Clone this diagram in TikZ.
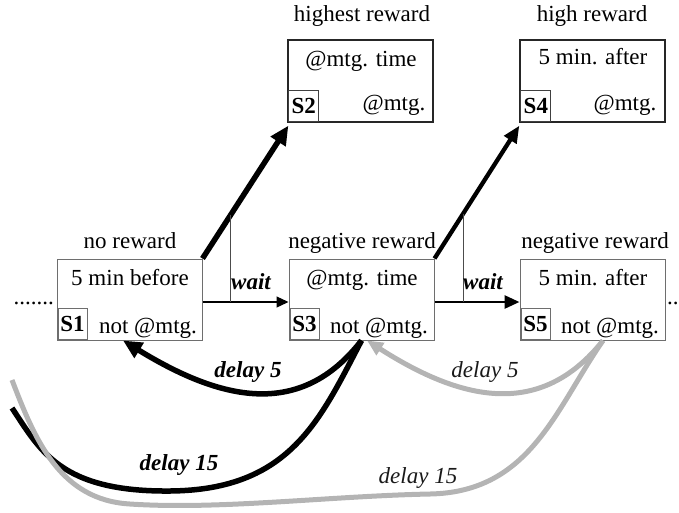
\documentclass[tikz,border=0pt]{standalone}
\usepackage{fontspec}
\setmainfont{Liberation Serif}
\usetikzlibrary{arrows.meta,calc}
\definecolor{lgray}{RGB}{180,180,180}
\definecolor{boxgray}{RGB}{110,110,110}
\begin{document}
\begin{tikzpicture}[x=1pt,y=-1pt,
  every node/.style={font=\fontsize{23}{27}\selectfont, inner sep=0pt},
  lowbox/.style={draw=boxgray, line width=1pt, minimum width=145pt, minimum height=81pt},
  upbox/.style={draw=black!85, line width=1.3pt, minimum width=145pt, minimum height=82pt},
  lowlab/.style={draw=boxgray, line width=1pt, minimum width=29pt, minimum height=31pt, anchor=south west, font=\fontsize{23}{27}\selectfont\bfseries},
  uplab/.style={draw=black!75, line width=1pt, minimum width=30pt, minimum height=31pt, anchor=south west, font=\fontsize{23}{27}\selectfont\bfseries},
  txt/.style={anchor=base},
  boldlab/.style={anchor=base, font=\fontsize{23}{27}\selectfont\bfseries\itshape},
  itlab/.style={anchor=base, text=black!90, font=\fontsize{23}{27}\selectfont\itshape},
  bigarrow/.style={line width=5.5pt, -{Triangle[length=19pt,width=17pt]}},
  medarrow/.style={line width=4.3pt, -{Triangle[length=17pt,width=14pt]}},
  thinwait/.style={line width=1.3pt, -{Triangle[length=12pt,width=11pt]}},
  thickwait/.style={line width=2.8pt, -{Triangle[length=15pt,width=13pt]}},
  junction/.style={line width=0.9pt, draw=black!70},
  blackcurve/.style={line width=5.5pt, draw=black},
  graycurve/.style={line width=5pt, draw=lgray},
]
\useasboundingbox (0,0) rectangle (679,512);

% state boxes
\node[lowbox] (s1) at (129.5,299.5) {};
\node[lowbox] (s3) at (361.5,299.5) {};
\node[lowbox] (s5) at (592.5,299.5) {};
\node[upbox] (s2) at (360.5,81) {};
\node[upbox] (s4) at (592.5,81) {};

% state labels
\node[lowlab] (s1l) at ([xshift=1pt,yshift=1pt]s1.south west) {S1};
\node[lowlab] (s3l) at ([xshift=1pt,yshift=1pt]s3.south west) {S3};
\node[lowlab] (s5l) at ([xshift=1pt,yshift=1pt]s5.south west) {S5};
\node[uplab] (s2l) at ([xshift=1pt,yshift=1pt]s2.south west) {S2};
\node[uplab] (s4l) at ([xshift=1pt,yshift=1pt]s4.south west) {S4};

% titles
\node[txt] (t2) at (362,21) {highest reward};
\node[txt] (t4) at (592,21) {high reward};
\node[txt] (t1) at (130,248) {no reward};
\node[txt] (t3) at (362,248) {negative reward};
\node[txt] (t5) at (595,248) {negative reward};

% box contents
\node[txt] (c1a) at (130,285) {5 min before};
\node[txt] (c1b) at (148,333) {not @mtg.};
\node[txt] (c3a) at (362,285) {@mtg. time};
\node[txt] (c3b) at (379,333) {not @mtg.};
\node[txt] (c5a) at (593,285) {5 min. after};
\node[txt] (c5b) at (610,333) {not @mtg.};
\node[txt] (c2a) at (361,66) {@mtg. time};
\node[txt] (c2b) at (394,110) {@mtg.};
\node[txt] (c4a) at (593,64) {5 min. after};
\node[txt] (c4b) at (625,110) {@mtg.};

% dots
\node[anchor=base east] (dl) at (54,304) {.......};
\node[anchor=base west] (dr) at (667,304) {..};

% wait transitions
\coordinate (w1) at ([yshift=-2.5pt]s1.east);
\coordinate (w3) at ([yshift=-2.5pt]s3.east);
\draw[thinwait] (w1) -- ([yshift=-2.5pt]s3.west);
\draw[thickwait] (w3) -- ([yshift=-2.5pt]s5.west);
\draw[bigarrow] (s1.north east) -- ([xshift=1pt,yshift=-3pt]s2.south west);
\draw[medarrow] (s3.north east) -- ([yshift=-3pt]s4.south west);
\path (s1.north east) -- ([xshift=1pt,yshift=-3pt]s2.south west) coordinate[pos=0.33] (j1);
\path (s3.north east) -- ([yshift=-3pt]s4.south west) coordinate[pos=0.337] (j3);
\draw[junction] (j1) -- (j1 |- w1);
\draw[junction] (j3) -- (j3 |- w3);
\node[boldlab] (wl1) at (251,289) {wait};
\node[boldlab] (wl3) at (483,289) {wait};

% delay transitions
\coordinate (e1) at (12,408);
\coordinate (e2) at (12,380);
\draw[blackcurve] (s3.south) .. controls (320,420) and (290,490) .. (170,491)
   .. controls (60,492) and (40,450) .. (e1);
\draw[blackcurve, -{Triangle[length=19pt,width=17pt]}] (s3.south) .. controls (300,420) and (220,400) .. ([xshift=-6.5pt]s1.south);
\draw[graycurve] ([xshift=10.5pt]s5.south) .. controls (555,410) and (530,492) .. (430,494)
   .. controls (330,496) and (220,510) .. (130,504)
   .. controls (60,500) and (35,440) .. (e2);
\draw[graycurve, -{Triangle[length=16pt,width=14pt]}] ([xshift=10.5pt]s5.south) .. controls (540,420) and (460,400) .. ([xshift=5.5pt]s3.south);

\node[boldlab] (d5b) at (248,377) {delay 5};
\node[boldlab] (d15b) at (179,470) {delay 15};
\node[itlab] (d5g) at (485,377) {delay 5};
\node[itlab] (d15g) at (418,483) {delay 15};
\end{tikzpicture}
\end{document}
